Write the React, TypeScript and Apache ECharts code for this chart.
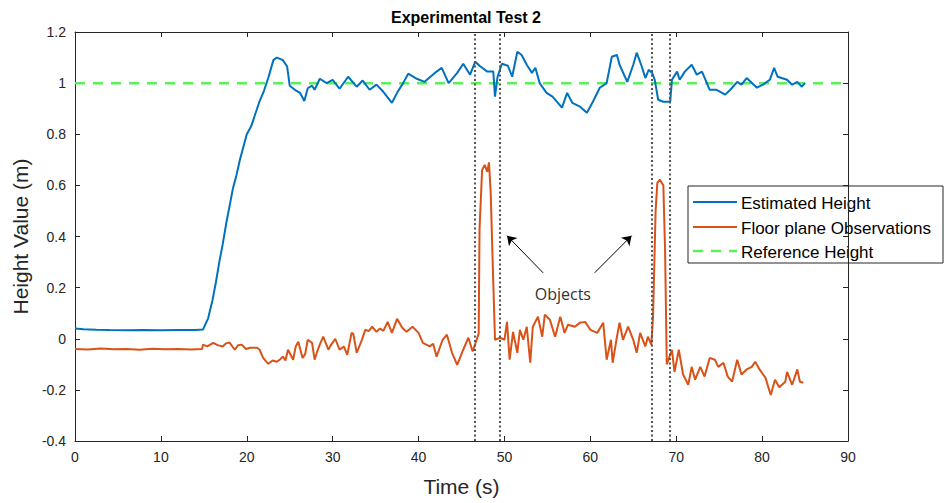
import React, { useEffect, useRef } from "react";
import * as echarts from "echarts";

const estTime = [0, 1, 2.5, 4, 6, 8, 10, 12, 14, 14.9, 15.5, 16.0, 16.4, 16.8, 17.2, 17.6, 18.0, 18.4, 18.8, 19.2, 19.6, 20.0, 20.5, 21.0, 21.5, 22.0, 22.5, 23.1, 23.5, 24.2, 24.7, 25.0, 25.6, 26.2, 26.7, 27.1, 27.6, 27.9, 28.5, 29.3, 30.0, 30.8, 31.8, 32.8, 33.5, 34.3, 35.1, 35.9, 36.9, 37.5, 38.2, 38.8, 39.8, 40.7, 41.9, 42.7, 43.5, 44.5, 45.2, 46.0, 46.6, 47.1, 48.0, 48.7, 48.9, 49.2, 49.7, 50.4, 50.9, 51.5, 52.0, 52.6, 53.2, 53.6, 54.1, 54.9, 55.6, 56.7, 57.3, 57.9, 58.8, 59.6, 60.3, 61.1, 61.9, 62.5, 63.1, 63.4, 64.3, 65.0, 65.4, 66.0, 66.4, 66.8, 67.2, 67.5, 67.9, 68.5, 69.3, 69.5, 70.1, 70.4, 71.0, 71.8, 72.4, 73.0, 73.9, 74.7, 75.7, 76.3, 77.1, 77.6, 78.2, 79.4, 80.1, 80.9, 81.4, 81.8, 82.9, 83.5, 84.1, 84.6, 85.0];
const estHeight = [0.04, 0.037, 0.035, 0.034, 0.033, 0.034, 0.033, 0.034, 0.034, 0.036, 0.08, 0.15, 0.22, 0.3, 0.37, 0.45, 0.52, 0.59, 0.64, 0.7, 0.75, 0.8, 0.83, 0.88, 0.93, 0.97, 1.02, 1.09, 1.1, 1.09, 1.065, 0.99, 0.974, 0.962, 0.93, 0.98, 0.99, 0.974, 1.017, 1.0, 1.013, 0.978, 1.025, 0.986, 1.01, 0.974, 0.994, 0.966, 0.923, 0.962, 1.0, 1.037, 1.017, 1.005, 1.04, 1.06, 1.0, 1.04, 1.076, 1.033, 1.084, 1.068, 1.045, 1.045, 0.947, 1.025, 1.076, 1.068, 1.025, 1.123, 1.11, 1.072, 1.04, 1.06, 1.0, 0.962, 0.947, 0.904, 0.962, 0.923, 0.908, 0.884, 0.927, 0.982, 1.0, 1.103, 1.11, 1.072, 1.005, 1.072, 1.119, 1.064, 1.02, 1.052, 1.04, 1.013, 0.935, 0.927, 0.927, 1.013, 1.045, 1.013, 1.045, 1.072, 1.033, 1.045, 0.974, 0.974, 0.955, 0.974, 1.005, 0.994, 1.02, 0.982, 0.994, 1.013, 1.06, 1.025, 1.013, 0.994, 1.005, 0.986, 1.0];

const floorTime = [0, 1.5, 3, 4.5, 6, 7.5, 9, 10.5, 12, 13.5, 14.8, 14.9, 15.4, 16.1, 16.6, 17.2, 17.6, 18.0, 18.6, 19.0, 19.4, 19.9, 20.4, 21.2, 21.5, 21.9, 22.5, 23.0, 23.5, 23.9, 24.2, 24.5, 24.8, 25.4, 25.7, 26.0, 26.5, 26.8, 27.1, 27.6, 27.9, 28.2, 28.5, 28.9, 29.5, 29.7, 30.3, 30.8, 31.3, 31.7, 32.2, 32.4, 32.8, 33.4, 33.8, 34.2, 34.6, 35.1, 35.5, 35.9, 36.4, 36.9, 37.5, 38.1, 38.6, 39.3, 40.0, 40.5, 41.3, 41.7, 42.1, 42.8, 43.3, 43.9, 44.5, 45.2, 45.8, 46.3, 46.8, 47.0, 47.1, 47.4, 47.7, 48.0, 48.2, 48.4, 48.7, 48.9, 49.5, 50.0, 50.3, 50.6, 51.0, 51.5, 51.8, 52.2, 52.6, 53.0, 53.3, 53.9, 54.4, 54.7, 55.3, 55.9, 56.5, 57.0, 57.4, 58.2, 58.8, 59.4, 60.0, 60.8, 61.5, 61.9, 62.4, 62.6, 63.1, 63.4, 63.8, 64.4, 65.0, 65.4, 65.8, 66.4, 66.7, 67.1, 67.3, 67.6, 67.8, 68.1, 68.5, 68.7, 68.9, 69.5, 69.8, 70.3, 70.8, 71.4, 71.8, 72.2, 72.8, 73.3, 73.9, 74.5, 74.9, 75.5, 76.0, 76.5, 77.1, 77.6, 78.2, 78.8, 79.2, 79.7, 80.4, 81.0, 81.5, 82.0, 82.7, 82.9, 83.5, 84.1, 84.4, 84.8];
const floorHeight = [-0.04, -0.042, -0.038, -0.041, -0.04, -0.043, -0.039, -0.041, -0.04, -0.042, -0.04, -0.023, -0.03, -0.016, -0.025, -0.03, -0.018, -0.015, -0.043, -0.025, -0.023, -0.04, -0.035, -0.035, -0.043, -0.075, -0.098, -0.085, -0.09, -0.08, -0.07, -0.085, -0.043, -0.082, -0.03, -0.012, -0.075, -0.06, -0.004, -0.016, -0.082, -0.05, -0.023, 0.008, -0.043, -0.03, 0.0, -0.043, -0.03, -0.063, 0.023, 0.02, -0.055, -0.004, 0.035, 0.03, 0.047, 0.027, 0.04, 0.031, 0.066, 0.023, 0.078, 0.043, 0.027, 0.047, 0.023, -0.016, -0.03, -0.02, -0.07, -0.004, 0.016, -0.055, -0.102, -0.043, 0.004, -0.05, 0.0, 0.02, 0.43, 0.66, 0.68, 0.653, 0.69, 0.57, 0.22, -0.004, 0.004, -0.004, 0.066, -0.082, 0.027, -0.055, 0.035, -0.004, 0.047, -0.094, 0.047, 0.086, 0.008, 0.094, 0.074, 0.008, 0.086, 0.023, 0.055, 0.047, 0.063, 0.066, 0.035, 0.023, 0.063, -0.082, -0.004, -0.094, 0.008, 0.063, -0.004, 0.047, -0.004, -0.055, 0.023, -0.03, 0.008, -0.023, 0.086, 0.5, 0.61, 0.622, 0.6, 0.35, -0.1, -0.043, -0.13, -0.043, -0.14, -0.18, -0.11, -0.16, -0.11, -0.148, -0.075, -0.082, -0.11, -0.094, -0.148, -0.168, -0.082, -0.14, -0.12, -0.11, -0.09, -0.12, -0.153, -0.22, -0.16, -0.19, -0.168, -0.13, -0.18, -0.12, -0.168, -0.172];

const refTime = [0, 90];
const refHeight = [1, 1];

const objectBounds = [46.6, 49.4, 67.1, 69.3];

const seriesNames = ["Estimated Height", "Floor plane Observations", "Reference Height"];
const seriesColors = ["#0072BD", "#D95319", "#5BEF5B"];
const titleText = "Experimental Test 2";
const xName = "Time (s)";
const yName = "Height Value (m)";
const annotationText = "Objects";
const labelPoint = [56.8, 0.176];
const arrowStarts = [[54.5, 0.258], [60.5, 0.258]];
const arrowEnds = [[50.3, 0.403], [64.8, 0.403]];

const FONT = "'Liberation Sans', Arial, Helvetica, sans-serif";
const AX = "#262626";

export default function App() {
  const ref = useRef<HTMLDivElement>(null);
  useEffect(() => {
    document.body.style.margin = "0";
    const chart = echarts.init(ref.current!, null, { renderer: "svg" });
    const zip = (a: number[], b: number[]) => a.map((v, i) => [v, b[i]]);
    const axisCommon = {
      axisLine: { show: true, onZero: false, lineStyle: { color: AX, width: 1 } },
      axisTick: { show: true, inside: true, length: 5, lineStyle: { color: AX } },
      splitLine: { show: false },
    };

    // legend box drawn with graphic elements
    const legX = 688;
    const legY = 186;
    const rowY = [16, 41, 65];
    const legendChildren: any[] = [
      {
        type: "rect",
        shape: { x: 0, y: 0, width: 255, height: 77 },
        style: { fill: "#fff", stroke: AX, lineWidth: 1 },
      },
    ];
    seriesNames.forEach((n, i) => {
      legendChildren.push({
        type: "line",
        shape: { x1: 5, y1: rowY[i], x2: 49, y2: rowY[i] },
        style: {
          stroke: seriesColors[i],
          lineWidth: i === 2 ? 2.5 : 2,
          lineDash: i === 2 ? [10, 8] : null,
        },
      });
      legendChildren.push({
        type: "text",
        x: 53,
        y: rowY[i] + 1,
        style: {
          text: n,
          fill: "#000",
          font: `17px ${FONT}`,
          verticalAlign: "middle",
          align: "left",
        },
      });
    });

    chart.setOption({
      animation: false,
      backgroundColor: "#fff",
      title: {
        text: titleText,
        left: 461,
        textAlign: "center",
        top: 4,
        textStyle: { fontFamily: FONT, fontSize: 16, fontWeight: "bold", color: "#000" },
      },
      grid: { left: 75, right: 96, top: 32, bottom: 62 },
      graphic: [
        {
          type: "group",
          x: legX,
          y: legY,
          z: 100,
          children: legendChildren,
        },
      ],
      xAxis: [
        {
          type: "value",
          min: 0,
          max: 90,
          interval: 10,
          name: xName,
          nameLocation: "middle",
          nameGap: 35,
          nameTextStyle: { fontFamily: FONT, fontSize: 21, color: AX },
          axisLabel: { fontFamily: FONT, fontSize: 14, color: AX, margin: 9 },
          ...axisCommon,
        },
        {
          type: "value",
          position: "top",
          min: 0,
          max: 90,
          interval: 10,
          axisLabel: { show: false },
          ...axisCommon,
        },
      ],
      yAxis: [
        {
          type: "value",
          min: -0.4,
          max: 1.2,
          interval: 0.2,
          name: yName,
          nameLocation: "middle",
          nameGap: 38,
          nameTextStyle: { fontFamily: FONT, fontSize: 21, color: AX },
          axisLabel: {
            fontFamily: FONT,
            fontSize: 14,
            color: AX,
            margin: 9,
            formatter: (v: number) => String(Math.round(v * 10) / 10),
          },
          ...axisCommon,
        },
        {
          type: "value",
          position: "right",
          min: -0.4,
          max: 1.2,
          interval: 0.2,
          axisLabel: { show: false },
          ...axisCommon,
        },
      ],
      series: [
        {
          name: seriesNames[0],
          type: "line",
          data: zip(estTime, estHeight),
          symbol: "none",
          color: seriesColors[0],
          lineStyle: { width: 2, color: seriesColors[0] },
          z: 3,
        },
        {
          name: seriesNames[1],
          type: "line",
          data: zip(floorTime, floorHeight),
          symbol: "none",
          color: seriesColors[1],
          lineStyle: { width: 2, color: seriesColors[1] },
          z: 3,
        },
        {
          name: seriesNames[2],
          type: "line",
          data: zip(refTime, refHeight),
          symbol: "none",
          color: seriesColors[2],
          lineStyle: { width: 2.5, color: seriesColors[2], type: [10, 8] },
          z: 2,
        },
        {
          name: "bounds",
          type: "line",
          data: [],
          symbol: "none",
          z: 4,
          markLine: {
            silent: true,
            symbol: "none",
            label: { show: false },
            lineStyle: { color: "#555", width: 2, type: [2, 2.5] },
            data: objectBounds.map((x) => ({ xAxis: x })),
          },
        },
        {
          name: "arrows",
          type: "line",
          data: [],
          symbol: "none",
          z: 5,
          markLine: {
            silent: true,
            symbol: ["none", "arrow"],
            symbolSize: 9,
            label: { show: false },
            lineStyle: { color: "#000", width: 1, type: "solid" },
            data: arrowStarts.map((s, i) => [{ coord: s }, { coord: arrowEnds[i] }]),
          },
          markPoint: {
            silent: true,
            symbol: "circle",
            symbolSize: 0,
            label: {
              show: true,
              position: "inside",
              formatter: annotationText,
              fontFamily: "'Open Sans', sans-serif",
              fontSize: 16,
              color: "#333",
            },
            data: [{ coord: labelPoint }],
          },
        },
      ],
    });
    return () => chart.dispose();
  }, []);
  return <div ref={ref} style={{ width: 944, height: 503 }} />;
}
